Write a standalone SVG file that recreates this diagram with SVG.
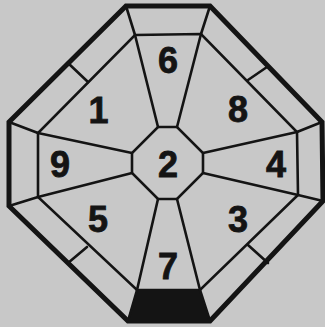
<svg xmlns="http://www.w3.org/2000/svg" width="325" height="327" viewBox="0 0 325 327">
<style>
.bg{fill:#c8c8c8}
.thin{fill:none;stroke:#141414;stroke-width:2.6;stroke-linejoin:miter;stroke-linecap:round}
.thick{fill:none;stroke:#141414;stroke-width:5;stroke-linejoin:miter}
.lbl{font-family:"Liberation Sans",Arial,sans-serif;font-weight:bold;font-size:36px;fill:#141414;stroke:#141414;stroke-width:0.8;text-anchor:middle}
</style>
<rect class="bg" x="0" y="0" width="325" height="327"/>
<g id="frame">
<polygon points="137,290 200,290 210,321 127,321" fill="#141414"/>
<polygon class="thin" points="135,35 201,34 297,132 298,195 200,290 137,290 38,197 38,133"/>
<polygon class="thin" points="158,127 177,127 203,153 203,173 177,199 158,199 132,173 132,153"/>
</g>
<g id="connectors">
<path class="thin" d="M158,127L135,35M177,127L201,34M203,153L297,132M203,173L298,195M177,199L200,290M158,199L137,290M132,173L38,197M132,153L38,133"/>
<path class="thin" d="M126,6L135,35M210,6L201,34M322,122L297,132M323,201L298,195M210,321L200,290M128,321L137,290M9,206L38,197M9,122L38,133"/>
<path class="thin" d="M68,63L88,82M267,67L248,80M68,263L87,247M248,245L268,263"/>
</g>
<polygon class="thick" points="126,6 210,6 322,122 323,201 210,321 128,321 9,206 9,122"/>
<g id="n1"><text class="lbl" x="98.5" y="123">1</text></g>
<g id="n6"><text class="lbl" x="168" y="73">6</text></g>
<g id="n8"><text class="lbl" x="238" y="122">8</text></g>
<g id="n9"><text class="lbl" x="60" y="177">9</text></g>
<g id="n2"><text class="lbl" x="168" y="177">2</text></g>
<g id="n4"><text class="lbl" x="276" y="177">4</text></g>
<g id="n5"><text class="lbl" x="98" y="232">5</text></g>
<g id="n3"><text class="lbl" x="238" y="232">3</text></g>
<g id="n7"><text class="lbl" x="168" y="279">7</text></g>
</svg>
